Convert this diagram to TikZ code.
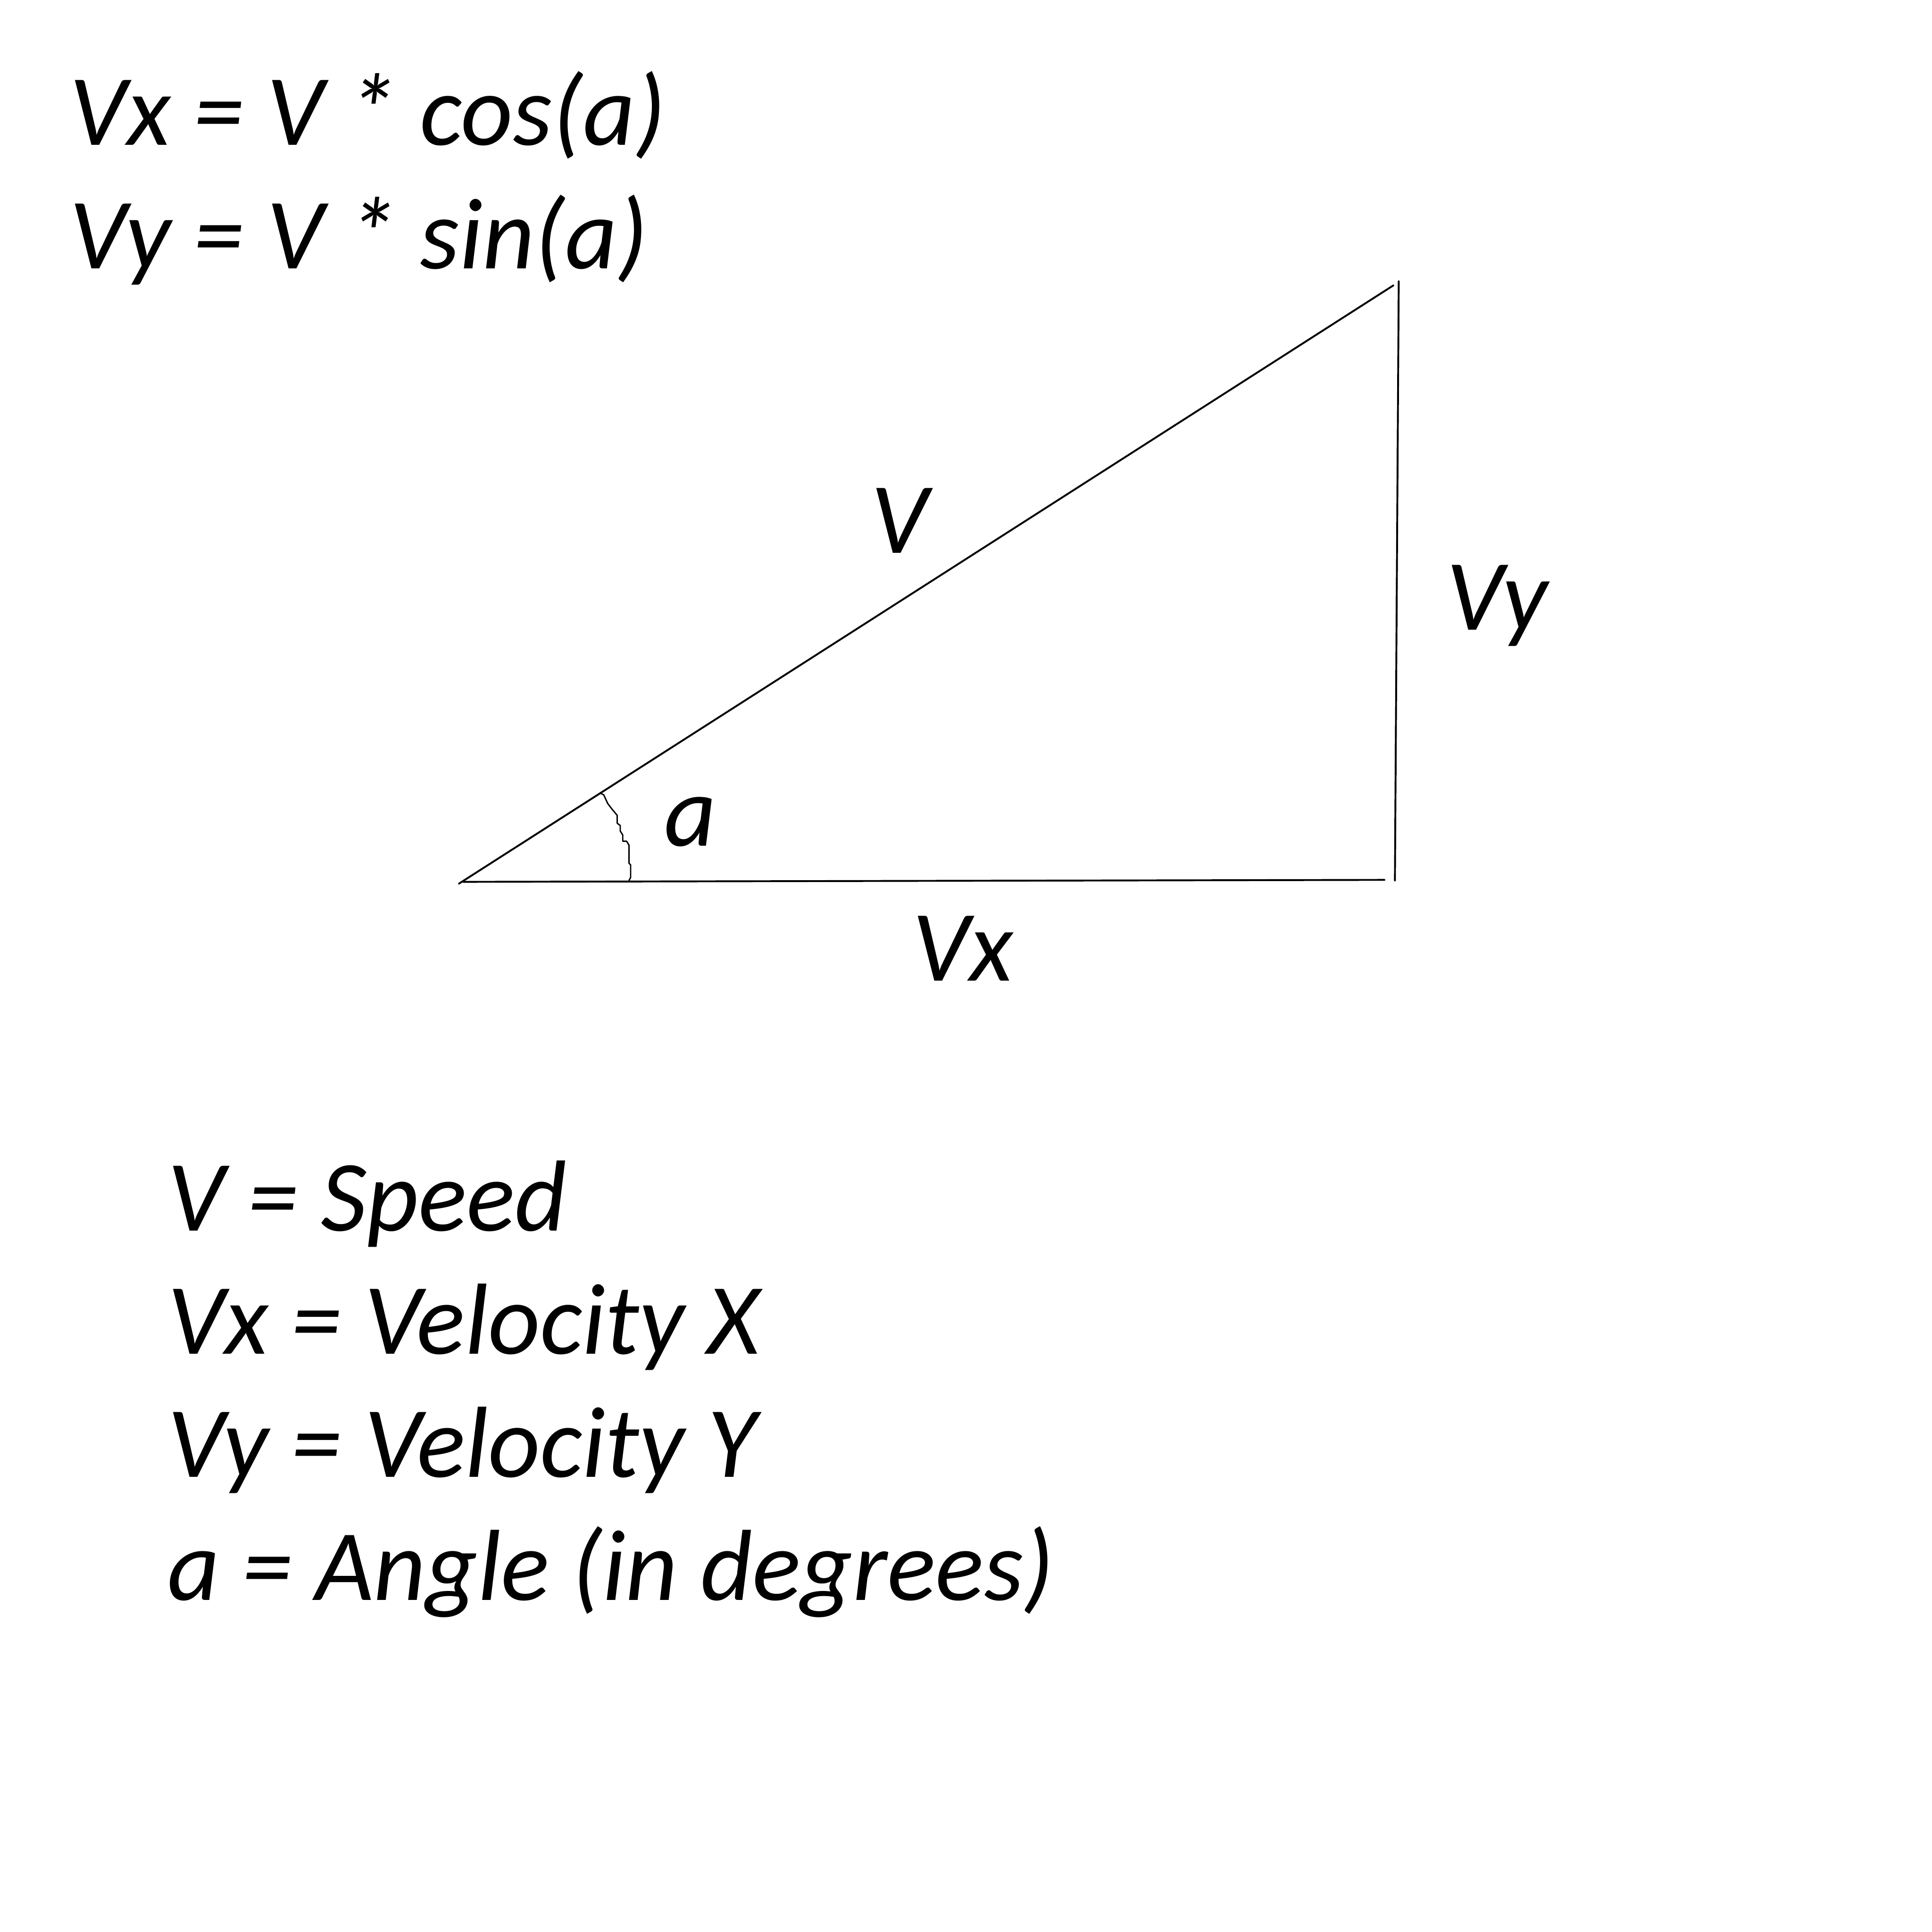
\documentclass[tikz,border=0pt]{standalone}
\usepackage{fontspec}
\setmainfont{Carlito}
\begin{document}
\begin{tikzpicture}[x=1pt,y=-1pt,
  txt/.style={inner sep=0pt, anchor=base west, xshift=-6pt, font=\fontsize{82}{98}\selectfont\itshape},
  edge/.style={line width=1.5pt, line cap=round},
  arcline/.style={line width=1.1pt, line join=round, line cap=round}]
\useasboundingbox (0,0) rectangle (1568,1568);
\fill[white] (0,0) rectangle (1568,1568);
% formulas
\node[txt] (f1) at (62.4,117.8) {Vx = V * cos(a)};
\node[txt] (f2) at (62.4,218) {Vy = V * sin(a)};
% triangle
\coordinate (A) at (372.4,717.2);
\coordinate (H0) at (375.8,715.7);
\coordinate (H1) at (1123.7,714.1);
\coordinate (C) at (1130.9,231.6);
\coordinate (Vt) at (1135.2,228.2);
\coordinate (Vb) at (1132.1,714.7);
\draw[edge] (A) -- (C);
\draw[edge] (H0) -- (H1);
\draw[edge] (Vt) -- (Vb);
% angle mark
\draw[arcline] (486.9,643.6) -- (490.0,645.1) -- (493.2,652.1) -- (497.1,657.2) -- (500.9,661.7)
  -- (500.9,668.1) -- (503.4,670.0) -- (503.4,674.5) -- (505.4,677.6) -- (505.4,682.7)
  -- (508.5,682.7) -- (510.5,685.9) -- (510.5,700.6) -- (511.8,701.9) -- (511.8,712.1) -- (510.5,714.6);
% labels
\node[txt] (lV) at (712.7,448.8) {V};
\node[txt] (lVy) at (1179.8,511.4) {Vy};
\node[txt] (la) at (545,686.6) {a};
\node[txt] (lVx) at (746.3,796) {Vx};
% legend
\node[txt] (g1) at (141.8,999) {V = Speed};
\node[txt] (g2) at (141.8,1098.8) {Vx = Velocity X};
\node[txt] (g3) at (141.8,1198.7) {Vy = Velocity Y};
\node[txt] (g4) at (141.8,1298.7) {a = Angle (in degrees)};
\end{tikzpicture}
\end{document}
